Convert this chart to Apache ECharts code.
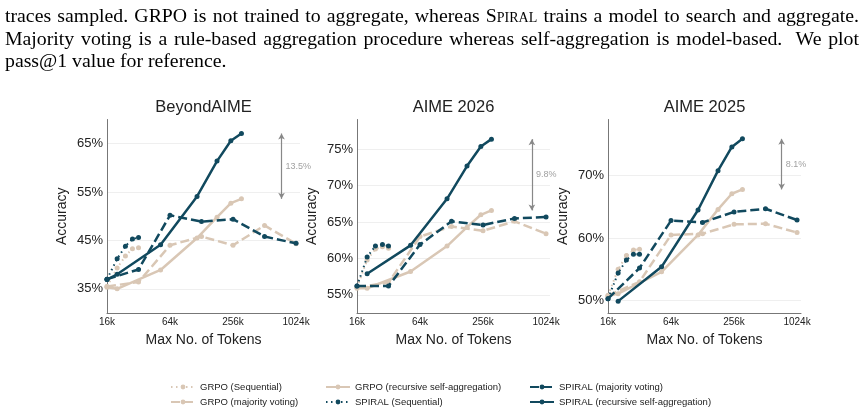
<!DOCTYPE html>
<html>
<head>
<meta charset="utf-8">
<script src="https://cdn.jsdelivr.net/npm/echarts@6/dist/echarts.min.js"></script>
<style>
  html, body { margin: 0; padding: 0; background: #fff; }
  #main { position: absolute; left: 0; top: 0; width: 863px; height: 413px; }
  .txt { position: absolute; left: 5px; width: 854px; font-family: 'Liberation Serif', serif; font-size: 19.8px; line-height: 22px; color: #000; text-align: justify; text-align-last: justify; white-space: nowrap; }
  .sc { font-variant: small-caps; }
</style>
</head>
<body>
<div id="main"></div>
<div class="txt" style="top:4px">traces sampled. GRPO is not trained to aggregate, whereas <span class="sc">Spiral</span> trains a model to search and aggregate.</div>
<div class="txt" style="top:27px">Majority voting is a rule-based aggregation procedure whereas self-aggregation is model-based.&nbsp; We plot</div>
<div class="txt" style="top:49px;text-align-last:left">pass@1 value for reference.</div>
<script>
  // token budgets (k) for each method
  const seqTokens = [16, 20, 24, 28, 32]
  const majTokens = [16, 32, 64, 128, 256, 512, 1024]
  const recTokens = [16, 20, 52, 116, 180, 244, 308]

  const titles = ['BeyondAIME', 'AIME 2026', 'AIME 2025']
  const yTicks = [[35, 45, 55, 65], [55, 60, 65, 70, 75], [50, 60, 70]]
  const yMin = [30, 52.5, 48]
  const yMax = [70, 79.1, 79]

  // BeyondAIME
  const beyondGrpoSeq = [35.5, 39.3, 41.8, 43.3, 43.5]
  const beyondGrpoMaj = [35.5, 36.4, 44.0, 45.8, 44.0, 48.1, 44.3]
  const beyondGrpoRec = [35.3, 35.0, 38.9, 45.5, 49.8, 52.7, 53.6]
  const beyondSpiralSeq = [37.0, 41.2, 43.8, 45.3, 45.6]
  const beyondSpiralMaj = [37.0, 39.0, 50.2, 48.9, 49.4, 45.8, 44.4]
  const beyondSpiralRec = [36.9, 38.0, 44.1, 54.1, 61.4, 65.6, 67.1]
  // AIME 2026
  const aime26GrpoSeq = [56.0, 59.8, 61.3, 61.6, 61.4]
  const aime26GrpoMaj = [56.0, 56.7, 63.0, 64.4, 63.8, 65.1, 63.4]
  const aime26GrpoRec = [55.9, 55.9, 58.2, 61.7, 64.3, 66.0, 66.6]
  const aime26SpiralSeq = [56.2, 60.2, 61.7, 61.9, 61.7]
  const aime26SpiralMaj = [56.2, 56.2, 61.9, 65.1, 64.6, 65.5, 65.7]
  const aime26SpiralRec = [null, 57.9, 61.8, 68.2, 72.7, 75.4, 76.4]
  // AIME 2025
  const aime25GrpoSeq = [50.8, 55.0, 57.2, 58.1, 58.2]
  const aime25GrpoMaj = [50.8, 53.0, 60.5, 60.7, 62.2, 62.3, 60.9]
  const aime25GrpoRec = [50.7, 51.1, 54.6, 60.5, 64.6, 67.1, 67.8]
  const aime25SpiralSeq = [50.3, 54.4, 56.5, 57.4, 57.4]
  const aime25SpiralMaj = [50.3, 55.2, 62.8, 62.5, 64.2, 64.7, 62.9]
  const aime25SpiralRec = [null, 49.9, 55.4, 64.5, 70.8, 74.6, 75.9]

  // gap arrows (SPIRAL rec max vs GRPO rec max)
  const gapLabels = ['13.5%', '9.8%', '8.1%']
  const gapTop = [67.1, 76.4, 75.9]
  const gapBottom = [53.6, 66.6, 67.8]
  const gapX = [744, 750, 730]

  const allData = [
    [beyondGrpoSeq, beyondGrpoMaj, beyondGrpoRec, beyondSpiralSeq, beyondSpiralMaj, beyondSpiralRec],
    [aime26GrpoSeq, aime26GrpoMaj, aime26GrpoRec, aime26SpiralSeq, aime26SpiralMaj, aime26SpiralRec],
    [aime25GrpoSeq, aime25GrpoMaj, aime25GrpoRec, aime25SpiralSeq, aime25SpiralMaj, aime25SpiralRec]
  ]

  const TAN = '#d9c7b5'
  const DARK = '#11495e'
  const FONT = 'Liberation Sans'
  const gridLefts = [107, 357, 608]

  const styles = [
    { name: 'GRPO (Sequential)', xs: seqTokens, color: TAN, type: [1.5, 3.5], width: 2 },
    { name: 'GRPO (majority voting)', xs: majTokens, color: TAN, type: [9, 4], width: 2.5 },
    { name: 'GRPO (recursive self-aggregation)', xs: recTokens, color: TAN, type: 'solid', width: 2.5 },
    { name: 'SPIRAL (Sequential)', xs: seqTokens, color: DARK, type: [1.5, 3.5], width: 2 },
    { name: 'SPIRAL (majority voting)', xs: majTokens, color: DARK, type: [9, 4], width: 2.5 },
    { name: 'SPIRAL (recursive self-aggregation)', xs: recTokens, color: DARK, type: 'solid', width: 2.5 }
  ]

  let grid = [], xAxis = [], yAxis = [], series = [], graphic = []
  for (let i = 0; i < 3; i++) {
    grid.push({ left: gridLefts[i], top: 119.5, width: 193, height: 193.5 })
    xAxis.push({
      type: 'log', logBase: 4, gridIndex: i, min: 16, max: 1117,
      axisLine: { lineStyle: { color: '#777', width: 1 } },
      axisTick: { show: false },
      splitLine: { show: false },
      axisLabel: { formatter: v => Math.round(v) + 'k', fontSize: 10, color: '#222', margin: 4, showMaxLabel: false, fontFamily: FONT },
      name: 'Max No. of Tokens', nameLocation: 'middle', nameGap: 20,
      nameTextStyle: { fontSize: 14, color: '#222', fontFamily: FONT }
    })
    yAxis.push({
      type: 'value', gridIndex: i, min: yMin[i], max: yMax[i],
      axisLine: { show: true, lineStyle: { color: '#777', width: 1 } },
      axisTick: { show: false, customValues: yTicks[i] },
      splitLine: { show: true, lineStyle: { color: '#efefef', width: 1 } },
      axisLabel: { customValues: yTicks[i], formatter: v => v + '%', fontSize: 13, color: '#222', margin: 4, fontFamily: FONT },
      name: 'Accuracy', nameLocation: 'middle', nameGap: 38,
      nameTextStyle: { fontSize: 14, color: '#222', fontFamily: FONT }
    })
    graphic.push({
      type: 'text', x: gridLefts[i] + 96.5, y: 107,
      style: { text: titles[i], fill: '#222', font: '16.5px "Liberation Sans"', align: 'center', verticalAlign: 'middle' }
    })
    styles.forEach((s, k) => {
      const ys = allData[i][k]
      series.push({
        name: s.name, type: 'line', xAxisIndex: i, yAxisIndex: i,
        data: s.xs.map((x, j) => [x, ys[j]]).filter(p => p[1] != null),
        symbol: 'circle', symbolSize: 5,
        itemStyle: { color: s.color },
        lineStyle: { color: s.color, width: s.width, type: s.type },
        emphasis: { disabled: true },
        z: k < 3 ? 2 : 3
      })
    })
    series.push({
      type: 'scatter', xAxisIndex: i, yAxisIndex: i, symbolSize: 0, silent: true,
      data: [[gapX[i], (gapTop[i] + gapBottom[i]) / 2]],
      label: { show: true, position: 'right', distance: 4, formatter: gapLabels[i], fontSize: 9, color: '#888', fontFamily: FONT },
      markLine: {
        silent: true, symbol: ['arrow', 'arrow'], symbolSize: [5, 6],
        lineStyle: { color: '#888', width: 1.2, type: 'solid' },
        label: { show: false },
        data: [[{ coord: [gapX[i], gapTop[i]] }, { coord: [gapX[i], gapBottom[i]] }]]
      }
    })
  }

  // one legend per entry, laid out in 3 columns x 2 rows
  const legendLefts = [165, 165, 320, 320, 524, 524]
  const legendTops = [377, 392, 377, 392, 377, 392]
  const legend = styles.map((s, k) => ({
    left: legendLefts[k], top: legendTops[k], itemWidth: 24, itemHeight: 6,
    data: [s.name],
    textStyle: { fontSize: 9.5, color: '#222', fontFamily: FONT }
  }))

  let myEcharts = echarts.init(document.querySelector('#main'))
  myEcharts.setOption({
    animation: false,
    textStyle: { fontFamily: FONT },
    grid, xAxis, yAxis, series, graphic, legend
  })
</script>
</body>
</html>
